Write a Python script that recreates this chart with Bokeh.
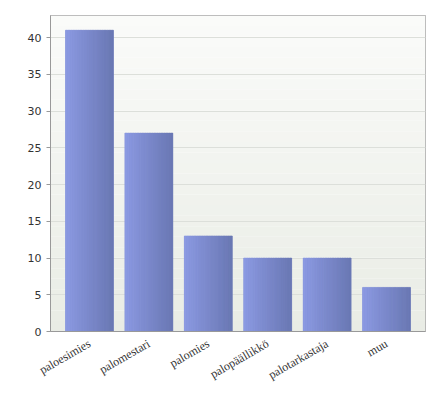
import math
from bokeh.plotting import figure
from bokeh.models import FactorRange, Range1d, SingleIntervalTicker, BoxAnnotation, ColumnDataSource
from bokeh.transform import dodge
from bokeh.embed import file_html
from bokeh.resources import INLINE

categories = ["paloesimies", "palomestari", "palomies", "palopäällikkö", "palotarkastaja", "muu"]
counts = [41, 27, 13, 10, 10, 6]

def mix(c1, c2, t):
    a = [int(c1[i:i+2], 16) for i in (1, 3, 5)]
    b = [int(c2[i:i+2], 16) for i in (1, 3, 5)]
    return "#%02x%02x%02x" % tuple(round(a[i] + (b[i] - a[i]) * t) for i in range(3))

p = figure(frame_width=375, frame_height=316, output_backend="svg", toolbar_location=None,
           x_range=FactorRange(factors=categories, range_padding=0.052),
           y_range=Range1d(0, 43),
           min_border_left=50, min_border_top=15, min_border_right=7, min_border_bottom=40)

# background gradient
nb = 30
ymax = 43
for k in range(nb):
    p.add_layout(BoxAnnotation(bottom=ymax * k / nb, top=ymax * (k + 1) / nb,
                               fill_color=mix("#e9ece5", "#fafbf9", k / (nb - 1)),
                               fill_alpha=1, line_color=None, level="image"))

src = ColumnDataSource(dict(cat=categories, val=counts))
w = 0.81
p.vbar(x="cat", top="val", width=w, source=src, fill_color="#7b89cb", line_color=None)
ns = 20
for k in range(ns):
    off = -w / 2 + (k + 0.5) * w / ns
    col = mix("#8c9ae2", "#6a78b4", k / (ns - 1))
    p.vbar(x=dodge("cat", off, range=p.x_range), top="val", width=w / ns * 0.9,
           source=src, fill_color=col, line_color=col, line_width=0.6)

p.grid.grid_line_color = None
p.ygrid.grid_line_color = "#dcdfda"
p.ygrid.ticker = SingleIntervalTicker(interval=5)
p.yaxis.ticker = SingleIntervalTicker(interval=5)
p.outline_line_color = "#a8a8a8"
p.outline_line_width = 1

for ax in (p.xaxis, p.yaxis):
    ax.axis_line_color = "#999999"
    ax.minor_tick_line_color = None
    ax.major_label_text_color = "#333333"

p.yaxis.major_label_text_font = "DejaVu Sans"
p.yaxis.major_label_text_font_size = "11px"
p.yaxis.major_tick_line_color = "#999999"
p.yaxis.major_tick_out = 4
p.yaxis.major_tick_in = 0
p.xaxis.major_tick_line_color = None
p.xaxis.major_label_text_font = "Liberation Serif"
p.xaxis.major_label_text_font_size = "12px"
p.xaxis.major_label_orientation = math.pi / 6
p.xaxis.major_label_standoff = 5

open("out.html", "w").write(file_html(p, INLINE))
